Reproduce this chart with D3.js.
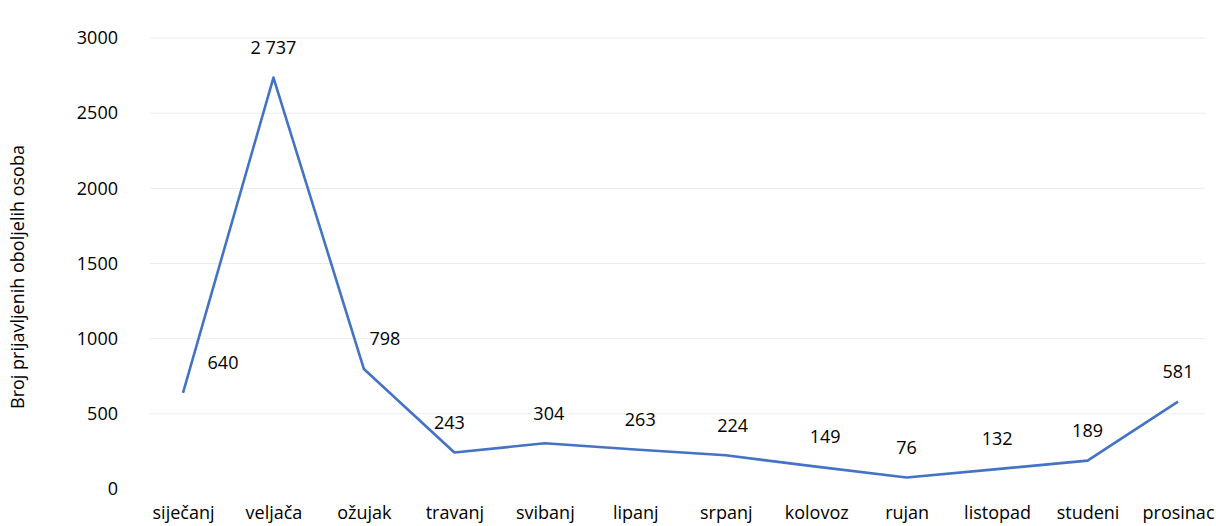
<!DOCTYPE html>
<html lang="hr">
<head>
<meta charset="UTF-8">
<title>Broj prijavljenih oboljelih osoba</title>
<script src="https://d3js.org/d3.v7.min.js"></script>
<style>
  body { margin: 0; background: #fff; }
  svg text { font-family: "Open Sans", "Noto Sans", sans-serif; fill: #000; }
</style>
</head>
<body>
<div id="chart"></div>
<script>
// podaci
const months = ["siječanj", "veljača", "ožujak", "travanj", "svibanj", "lipanj",
                "srpanj", "kolovoz", "rujan", "listopad", "studeni", "prosinac"];
const cases = [640, 2737, 798, 243, 304, 263, 224, 149, 76, 132, 189, 581];
const labelText = ["640", "2 737", "798", "243", "304", "263", "224", "149", "76", "132", "189", "581"];
const yTicks = [0, 500, 1000, 1500, 2000, 2500, 3000];

// pomaci oznaka (ručno pomaknute u izvorniku)
const labelDx = {0: 40, 2: 21, 3: -5, 4: 4, 5: 5, 6: 7, 7: 9};

const W = 1216, H = 526;
const svg = d3.select("#chart").append("svg")
    .attr("width", W).attr("height", H);

const x = d3.scalePoint().domain(months).range([183, 1178]);
const y = d3.scaleLinear().domain([0, 3000]).range([489, 38]);

// mreža
svg.append("g")
    .selectAll("line")
    .data(yTicks.slice(1))
    .join("line")
    .attr("x1", 150).attr("x2", 1205)
    .attr("y1", d => y(d)).attr("y2", d => y(d))
    .attr("stroke", "#ececec").attr("stroke-width", 1);

// os y
const yAxis = svg.append("g")
    .attr("transform", "translate(118,0)")
    .call(d3.axisLeft(y).tickValues(yTicks).tickSize(0).tickPadding(0).tickFormat(d3.format("d")));
yAxis.select(".domain").remove();
yAxis.selectAll("text")
    .style("font-size", "18px")
    .style("font-family", "'Open Sans', sans-serif")
    .attr("fill", "#000");

// os x
const xAxis = svg.append("g")
    .attr("transform", "translate(0,506)")
    .call(d3.axisBottom(x).tickSize(0).tickPadding(0));
xAxis.select(".domain").remove();
xAxis.selectAll("text")
    .style("font-size", "18px")
    .style("font-family", "'Open Sans', sans-serif")
    .attr("fill", "#000");

// naslov osi
svg.append("text")
    .attr("transform", "translate(24,277) rotate(-90)")
    .attr("text-anchor", "middle")
    .style("font-size", "18px")
    .text("Broj prijavljenih oboljelih osoba");

// linija
const line = d3.line()
    .x((d, i) => x(months[i]))
    .y(d => y(d));

svg.append("path")
    .datum(cases)
    .attr("fill", "none")
    .attr("stroke", "#4472C4")
    .attr("stroke-width", 2.6)
    .attr("stroke-linejoin", "round")
    .attr("d", line);

// oznake vrijednosti
svg.append("g")
    .selectAll("text")
    .data(cases)
    .join("text")
    .attr("x", (d, i) => x(months[i]) + (labelDx[i] || 0))
    .attr("y", d => y(d) - 30)
    .attr("dy", "0.35em")
    .attr("text-anchor", "middle")
    .style("font-size", "18px")
    .text((d, i) => labelText[i]);
</script>
</body>
</html>
